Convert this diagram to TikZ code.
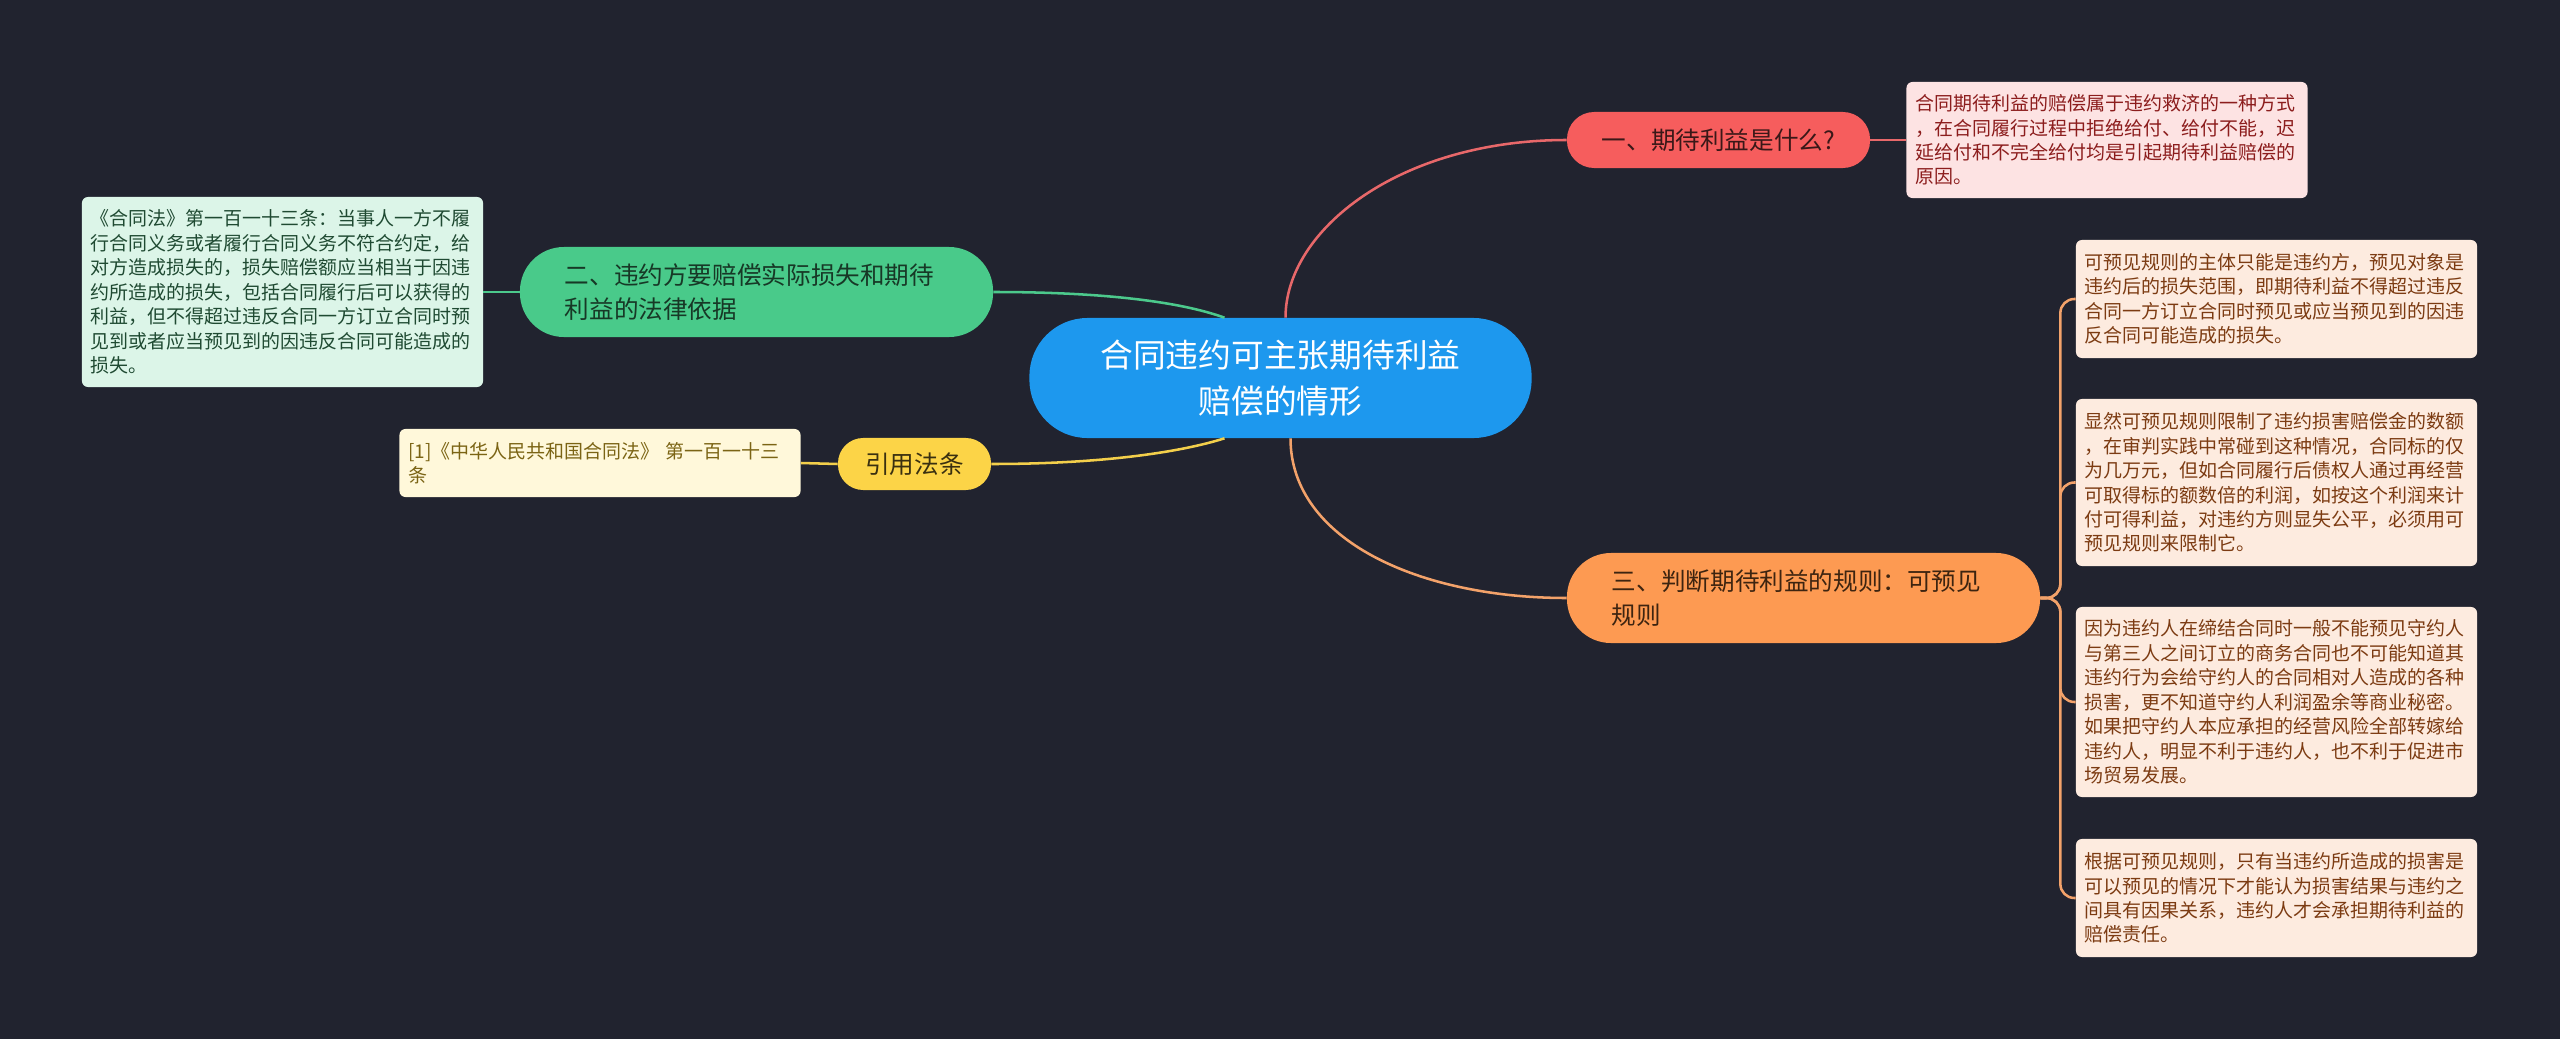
\documentclass[tikz,border=0pt]{standalone}
\usepackage{fontspec}
\newfontfamily\cjk{Noto Sans CJK SC}
\usepackage{tikz}
\usetikzlibrary{calc}
\definecolor{bgdark}{HTML}{21232F}
\definecolor{rootblue}{HTML}{1D98EE}
\definecolor{redtopic}{HTML}{F65D5D}
\definecolor{redline}{HTML}{E8686A}
\definecolor{redleaf}{HTML}{FDE3E3}
\definecolor{redleaftext}{HTML}{8C1D1D}
\definecolor{redtopictext}{HTML}{3A1818}
\definecolor{greentopic}{HTML}{49CA8A}
\definecolor{greenline}{HTML}{4CC98C}
\definecolor{greenleaf}{HTML}{DCF5E8}
\definecolor{greenleaftext}{HTML}{1F4A32}
\definecolor{greentopictext}{HTML}{173826}
\definecolor{yellowtopic}{HTML}{FCD447}
\definecolor{yellowline}{HTML}{F3CF4B}
\definecolor{yellowleaf}{HTML}{FFF8DA}
\definecolor{yellowleaftext}{HTML}{7B6414}
\definecolor{yellowtopictext}{HTML}{3A3010}
\definecolor{orangetopic}{HTML}{FD9A52}
\definecolor{orangeline}{HTML}{F3A26A}
\definecolor{orangeleaf}{HTML}{FDEBDF}
\definecolor{orangeleaftext}{HTML}{7C3B12}
\definecolor{orangetopictext}{HTML}{3D2410}
\tikzset{
	root node/.style={rectangle, rounded corners=1.45cm, fill=rootblue, text=white, align=center, minimum width=12.55cm, minimum height=3cm, inner sep=0pt, font=\cjk\fontsize{23.3}{33}\selectfont},
	short topic/.style={rectangle, inner sep=0pt, align=center, font=\cjk\fontsize{17.5}{23.7}\selectfont},
	long topic/.style={rectangle, rounded corners=1.1cm, inner xsep=1.125cm, inner ysep=0pt, text width=9.575cm, minimum height=2.25cm, align=left, font=\cjk\fontsize{17.5}{23.7}\selectfont},
	leaf note/.style={rectangle, rounded corners=0.15cm, inner xsep=0.225cm, inner ysep=0pt, text width=9.575cm, align=left, font=\cjk\fontsize{13.5}{17.4}\selectfont},
	link/.style={line width=1.8pt},
}
\begin{document}
\begin{tikzpicture}[x=0.025cm, y=-0.025cm]
	\fill[bgdark] (0,0) rectangle (2560,1039);
	\useasboundingbox (0,0) rectangle (2560,1039);
	\node[root node] (root) at (1280.5,378) {合同违约可主张期待利益\\赔偿的情形};
	\node[short topic, fill=redtopic, text=redtopictext, rounded corners=0.68cm, minimum width=7.575cm, minimum height=1.4cm] (red) at (1718.5,140) {一、期待利益是什么?};
	\node[leaf note, fill=redleaf, text=redleaftext, minimum height=2.9cm] (redleaf) at (2107,140) {合同期待利益的赔偿属于违约救济的一种方式\\，在合同履行过程中拒绝给付、给付不能，迟\\延给付和不完全给付均是引起期待利益赔偿的\\原因。};
	\node[long topic, fill=greentopic, text=greentopictext] (green) at (756.5,292) {二、违约方要赔偿实际损失和期待\\利益的法律依据};
	\node[leaf note, fill=greenleaf, text=greenleaftext, minimum height=4.75cm] (greenleaf) at (282.5,292) {《合同法》第一百一十三条：当事人一方不履\\行合同义务或者履行合同义务不符合约定，给\\对方造成损失的，损失赔偿额应当相当于因违\\约所造成的损失，包括合同履行后可以获得的\\利益，但不得超过违反合同一方订立合同时预\\见到或者应当预见到的因违反合同可能造成的\\损失。};
	\node[short topic, fill=yellowtopic, text=yellowtopictext, rounded corners=0.63cm, minimum width=3.825cm, minimum height=1.3cm] (yellow) at (914.5,464) {引用法条};
	\node[leaf note, fill=yellowleaf, text=yellowleaftext, minimum height=1.7cm] (yellowleaf) at (600,463) {[1]《中华人民共和国合同法》 第一百一十三\\条};
	\node[long topic, fill=orangetopic, text=orangetopictext] (orange) at (1803.5,598) {三、判断期待利益的规则：可预见\\规则};
	\node[leaf note, fill=orangeleaf, text=orangeleaftext, minimum height=2.95cm] (o1) at (2276.5,299) {可预见规则的主体只能是违约方，预见对象是\\违约后的损失范围，即期待利益不得超过违反\\合同一方订立合同时预见或应当预见到的因违\\反合同可能造成的损失。};
	\node[leaf note, fill=orangeleaf, text=orangeleaftext, minimum height=4.175cm] (o2) at (2276.5,482.5) {显然可预见规则限制了违约损害赔偿金的数额\\，在审判实践中常碰到这种情况，合同标的仅\\为几万元，但如合同履行后债权人通过再经营\\可取得标的额数倍的利润，如按这个利润来计\\付可得利益，对违约方则显失公平，必须用可\\预见规则来限制它。};
	\node[leaf note, fill=orangeleaf, text=orangeleaftext, minimum height=4.75cm] (o3) at (2276.5,702) {因为违约人在缔结合同时一般不能预见守约人\\与第三人之间订立的商务合同也不可能知道其\\违约行为会给守约人的合同相对人造成的各种\\损害，更不知道守约人利润盈余等商业秘密。\\如果把守约人本应承担的经营风险全部转嫁给\\违约人，明显不利于违约人，也不利于促进市\\场贸易发展。};
	\node[leaf note, fill=orangeleaf, text=orangeleaftext, minimum height=2.95cm] (o4) at (2276.5,898) {根据可预见规则，只有当违约所造成的损害是\\可以预见的情况下才能认为损害结果与违约之\\间具有因果关系，违约人才会承担期待利益的\\赔偿责任。};
	\draw[link, redline] ($(root.north)+(5,0)$) .. controls ($(root.north)+(5,-88)$) and ($(red.west)+(-167,0)$) .. (red.west);
	\draw[link, greenline] (green.east) .. controls ($(green.east)+(110,0)$) and ($(root.north)+(-100,-16)$) .. ($(root.north)+(-56,0)$);
	\draw[link, yellowline] (yellow.east) .. controls ($(yellow.east)+(110,0)$) and ($(root.south)+(-100,14)$) .. ($(root.south)+(-56,0)$);
	\draw[link, orangeline] ($(root.south)+(10,0)$) .. controls ($(root.south)+(10,102)$) and ($(orange.west)+(-147,0)$) .. (orange.west);
	\draw[link, redline] (red.east) -- (redleaf.west);
	\draw[link, greenline] (green.west) -- (greenleaf.east);
	\draw[link, yellowline] (yellow.west) -- (yellowleaf.east);
	\foreach \leaf in {o1,o2,o3,o4}
		\draw[link, orangeline, rounded corners=0.35cm] (orange.east) -- ++(20,0) |- (\leaf.west);
\end{tikzpicture}
\end{document}
